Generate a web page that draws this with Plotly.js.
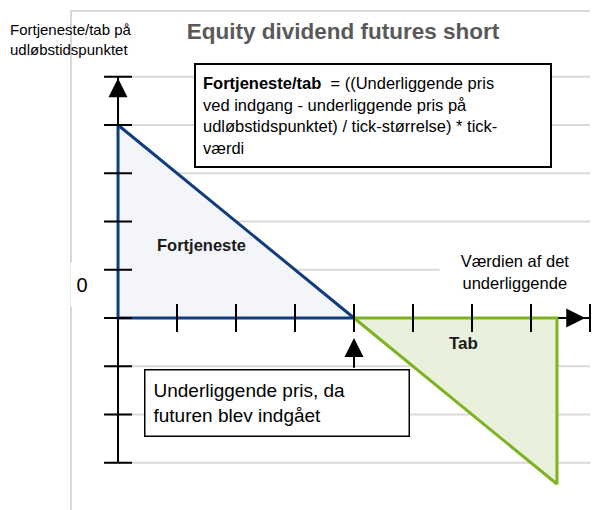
<!DOCTYPE html>
<html><head><meta charset="utf-8">
<script src="https://cdn.plot.ly/plotly-3.0.1.min.js"></script>
<style>html,body{margin:0;padding:0;background:#fff}</style>
</head><body><div id="chart" style="width:598px;height:510px"></div>
<script>
// ---- data ----
const profitX = [0, 0, 4];
const profitY = [4, 0, 0];
const lossX = [4, 7.44, 7.44];
const lossY = [0, 0, -3.44];
const xTicks = [1, 2, 3, 4, 5, 6, 7, 8];
const yTicks = [-3, -2, -1, 0, 1, 2, 3, 4, 5];
const entryPrice = 4;
const titleText = 'Equity dividend futures short';
const yLabel = 'Fortjeneste/tab på<br>udløbstidspunktet';
const xLabel = 'Værdien af det<br>underliggende';
const profitLabel = 'Fortjeneste';
const lossLabel = 'Tab';
const formulaText = '<b>Fortjeneste/tab</b>\u00a0 = ((Underliggende pris<br>ved indgang - underliggende pris på<br>udløbstidspunktet) / tick-størrelse) * tick-<br>værdi';
const entryText = 'Underliggende pris, da<br>futuren blev indgået';
const zeroLabel = '0';

// ---- styling / layout helpers ----
const W = 598, H = 510, ML = 72, MR = 8, MT = 12, MB = 0;
const px = v => (v - ML) / (W - ML - MR);
const py = v => (H - MB - v) / (H - MT - MB);
const FONT = 'Liberation Sans, Arial, sans-serif';
const blue = '#123d7c', blueFill = '#f3f5f9';
const green = '#7db320', greenFill = '#e9f1dc';
const grid = '#d9d9d9';
const xEnd = Math.max(...xTicks);

const close = a => a.concat([a[0]]);

const traces = [
  // axes lines
  {x: [0, 0], y: [Math.min(...yTicks), Math.max(...yTicks)], mode: 'lines', line: {color: '#000', width: 2}, hoverinfo: 'skip'},
  {x: [0, xEnd], y: [0, 0], mode: 'lines', line: {color: '#000', width: 2}, hoverinfo: 'skip'},
  // profit triangle
  {x: close(profitX), y: close(profitY), mode: 'lines', fill: 'toself', fillcolor: blueFill,
   line: {color: blue, width: 3}, hoverinfo: 'skip'},
  // loss triangle
  {x: close(lossX), y: close(lossY), mode: 'lines', fill: 'toself', fillcolor: greenFill,
   line: {color: green, width: 3}, hoverinfo: 'skip'},
  // y ticks
  {x: yTicks.map(() => 0), y: yTicks, mode: 'markers', cliponaxis: false,
   marker: {symbol: 'line-ew', size: 20, color: '#000', line: {color: '#000', width: 2}}, hoverinfo: 'skip'},
  // x ticks
  {x: xTicks, y: xTicks.map(() => 0), mode: 'markers', cliponaxis: false,
   marker: {symbol: 'line-ns', size: 20, color: '#000', line: {color: '#000', width: 2}}, hoverinfo: 'skip'}
];

const shapes = yTicks.map(v => ({
  type: 'line', xref: 'x', yref: 'y', x0: -0.17, x1: xEnd, y0: v, y1: v,
  line: {color: grid, width: 2}, layer: 'below'
}));

const annotations = [
  {xref: 'paper', yref: 'paper', x: px(8), y: py(39.5), xanchor: 'left', yanchor: 'middle', align: 'left',
   text: yLabel, showarrow: false, font: {family: FONT, size: 15, color: '#000'}},
  {xref: 'paper', yref: 'paper', x: px(373), y: py(115.5), xanchor: 'center', yanchor: 'middle', align: 'left',
   width: 340, height: 87, borderpad: 7, borderwidth: 2, bordercolor: '#000', bgcolor: '#fff',
   text: formulaText, showarrow: false, font: {family: FONT, size: 16.5, color: '#000'}},
  {xref: 'paper', yref: 'paper', x: px(277), y: py(403), xanchor: 'center', yanchor: 'middle', align: 'left',
   width: 247, height: 49, borderpad: 8, borderwidth: 1.5, bordercolor: '#000', bgcolor: '#fff',
   text: entryText, showarrow: false, font: {family: FONT, size: 19, color: '#000'}},
  {xref: 'paper', yref: 'paper', x: px(515), y: py(272), xanchor: 'center', yanchor: 'middle', align: 'center',
   width: 150, height: 44, borderpad: 0, bgcolor: '#fff',
   text: xLabel, showarrow: false, font: {family: FONT, size: 16.5, color: '#000'}},
  {xref: 'paper', yref: 'paper', x: px(81.5), y: py(285), xanchor: 'center', yanchor: 'middle',
   width: 22, height: 43, borderpad: 0, bgcolor: '#fff',
   text: zeroLabel, showarrow: false, font: {family: FONT, size: 20, color: '#000'}},
  {xref: 'x', yref: 'y', x: 1.42, y: 1.51, text: '<b>' + profitLabel + '</b>', showarrow: false,
   font: {family: FONT, size: 16.5, color: '#1a1a1a'}},
  {xref: 'x', yref: 'y', x: 5.85, y: -0.52, text: '<b>' + lossLabel + '</b>', showarrow: false,
   font: {family: FONT, size: 17, color: '#1a1a1a'}},
  // arrows
  {xref: 'x', yref: 'y', axref: 'x', ayref: 'y', x: 0, y: 4.97, ax: 0, ay: 4, text: '', showarrow: true,
   arrowhead: 2, arrowsize: 1.9, arrowwidth: 2, arrowcolor: '#000', standoff: 0},
  {xref: 'x', yref: 'y', axref: 'x', ayref: 'y', x: 7.92, y: 0, ax: 7.44, ay: 0, text: '', showarrow: true,
   arrowhead: 2, arrowsize: 1.9, arrowwidth: 2, arrowcolor: '#000', standoff: 0},
  {xref: 'x', yref: 'y', axref: 'x', ayref: 'y', x: entryPrice, y: -0.415, ax: entryPrice, ay: -1.06, text: '', showarrow: true,
   arrowhead: 2, arrowsize: 1.9, arrowwidth: 2, arrowcolor: '#000', standoff: 0}
];

const layout = {
  width: W, height: H,
  margin: {l: ML, r: MR, t: MT, b: MB, pad: 0},
  paper_bgcolor: '#fff', plot_bgcolor: '#fff',
  showlegend: false,
  title: {text: '<b>' + titleText + '</b>', font: {family: FONT, size: 22.5, color: '#595959'},
          xref: 'container', yref: 'container', x: 343 / W, y: 1 - 31 / H, xanchor: 'center', yanchor: 'middle'},
  xaxis: {range: [-0.78, 8.0], showgrid: false, zeroline: false, showticklabels: false, ticks: '',
          showline: true, side: 'top', linecolor: grid, linewidth: 2, fixedrange: true},
  yaxis: {range: [-3.979, 6.342], showgrid: false, zeroline: false, showticklabels: false, ticks: '',
          showline: true, linecolor: grid, linewidth: 2, fixedrange: true},
  shapes: shapes,
  annotations: annotations
};

Plotly.newPlot('chart', traces, layout, {displayModeBar: false, staticPlot: true});
</script></body></html>
